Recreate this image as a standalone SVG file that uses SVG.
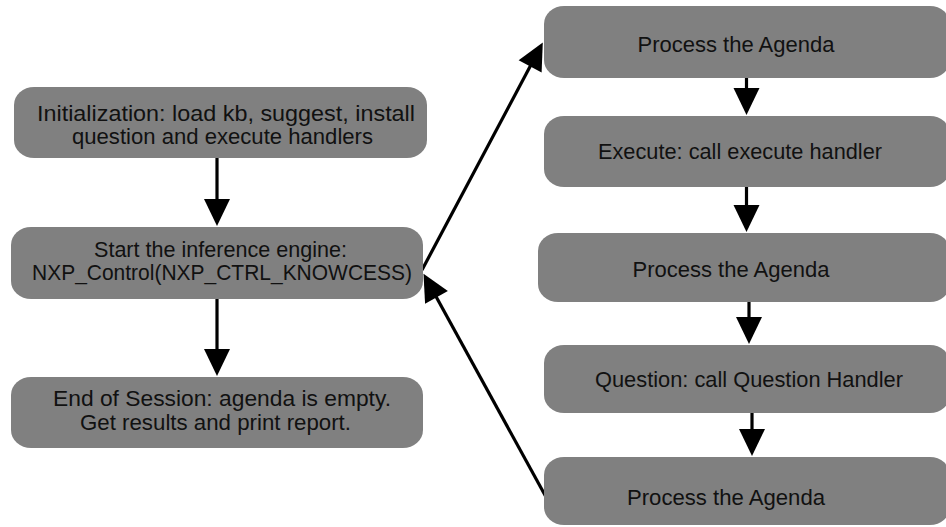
<svg xmlns="http://www.w3.org/2000/svg" width="946" height="527" viewBox="0 0 946 527">
<style>
.box{fill:#808080;}
.t{font-family:"Liberation Sans",Arial,Helvetica,sans-serif;font-size:21.5px;fill:#111;text-anchor:middle;}
.c{stroke:#000;stroke-width:3.2;fill:none;}
</style>
<defs>
<marker id="ah" markerUnits="userSpaceOnUse" markerWidth="30" markerHeight="30" refX="1" refY="13" orient="auto" overflow="visible">
<path d="M0,0 L27,13 L0,26 z" fill="#000"/>
</marker>
</defs>
<rect width="946" height="527" fill="#fff"/>
<g id="connectors">
<line class="c" x1="217" y1="158" x2="217" y2="200" marker-end="url(#ah)"/>
<line class="c" x1="217" y1="299" x2="217" y2="350" marker-end="url(#ah)"/>
<line class="c" x1="746.5" y1="78" x2="746.5" y2="89" marker-end="url(#ah)"/>
<line class="c" x1="746.5" y1="187" x2="746.5" y2="206" marker-end="url(#ah)"/>
<line class="c" x1="749" y1="302" x2="749" y2="318" marker-end="url(#ah)"/>
<line class="c" x1="752" y1="413" x2="752" y2="430" marker-end="url(#ah)"/>
<line class="c" x1="422" y1="270" x2="530.6" y2="65.5" marker-end="url(#ah)"/>
<line class="c" x1="546.7" y1="498.3" x2="436" y2="296.5" marker-end="url(#ah)"/>
</g>
<g id="init">
<rect class="box" x="14" y="87" width="413" height="71" rx="20" ry="18"/>
<text class="t" x="226" y="121" textLength="378" lengthAdjust="spacingAndGlyphs">Initialization: load kb, suggest, install</text>
<text class="t" x="222.5" y="144" textLength="301" lengthAdjust="spacingAndGlyphs">question and execute handlers</text>
</g>
<g id="start">
<rect class="box" x="11" y="227" width="412" height="72" rx="20" ry="18"/>
<text class="t" x="220.5" y="257" textLength="253" lengthAdjust="spacingAndGlyphs">Start the inference engine:</text>
<text class="t" x="222" y="280" textLength="380" lengthAdjust="spacingAndGlyphs">NXP_Control(NXP_CTRL_KNOWCESS)</text>
</g>
<g id="end">
<rect class="box" x="11" y="377" width="412" height="71" rx="20" ry="18"/>
<text class="t" x="222" y="406" textLength="338" lengthAdjust="spacingAndGlyphs">End of Session: agenda is empty.</text>
<text class="t" x="215.5" y="430" textLength="271" lengthAdjust="spacingAndGlyphs">Get results and print report.</text>
</g>
<g id="process1">
<rect class="box" x="544" y="6" width="406" height="72" rx="20" ry="18"/>
<text class="t" x="736" y="52" textLength="197" lengthAdjust="spacingAndGlyphs">Process the Agenda</text>
</g>
<g id="execute">
<rect class="box" x="544" y="116" width="406" height="71" rx="20" ry="18"/>
<text class="t" x="740" y="159" textLength="284" lengthAdjust="spacingAndGlyphs">Execute: call execute handler</text>
</g>
<g id="process2">
<rect class="box" x="538" y="233" width="412" height="69" rx="20" ry="18"/>
<text class="t" x="731" y="277" textLength="197" lengthAdjust="spacingAndGlyphs">Process the Agenda</text>
</g>
<g id="question">
<rect class="box" x="544" y="345" width="406" height="68" rx="20" ry="18"/>
<text class="t" x="749" y="387" textLength="308" lengthAdjust="spacingAndGlyphs">Question: call Question Handler</text>
</g>
<g id="process3">
<rect class="box" x="544" y="457" width="406" height="68" rx="20" ry="18"/>
<text class="t" x="726" y="505" textLength="198" lengthAdjust="spacingAndGlyphs">Process the Agenda</text>
</g>
</svg>
